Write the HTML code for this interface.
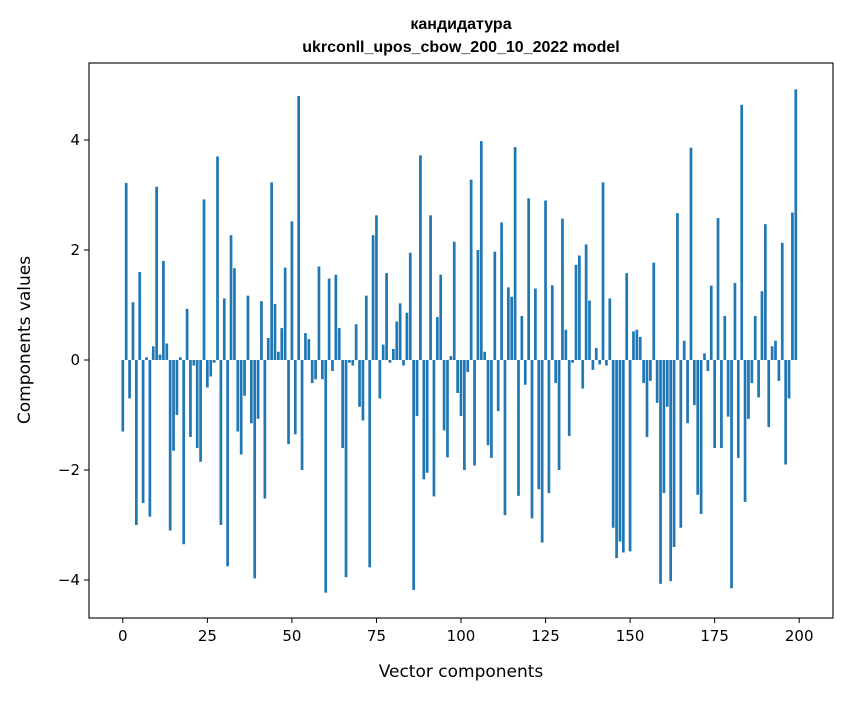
<!DOCTYPE html>
<html><head><meta charset="utf-8"><style>
body{margin:0;background:#fff;}
svg text{font-family:"DejaVu Sans","Liberation Sans",sans-serif;fill:#000;}
</style></head><body>
<svg id="chart" width="847" height="696" xmlns="http://www.w3.org/2000/svg">
<rect width="847" height="696" fill="#fff"/>
<text x="461" y="29" text-anchor="middle" font-size="16" font-weight="bold" style="font-family:'Liberation Sans',sans-serif">кандидатура</text>
<text x="461" y="52" text-anchor="middle" font-size="16" font-weight="bold" style="font-family:'Liberation Sans',sans-serif">ukrconll_upos_cbow_200_10_2022 model</text>
<g id="bars"></g>
<g id="axes"></g>
<text x="461" y="677" text-anchor="middle" font-size="17">Vector components</text>
<text x="0" y="0" transform="translate(30,340) rotate(-90)" text-anchor="middle" font-size="17">Components values</text>
</svg>
<script>
const values = [-1.3,3.22,-0.7,1.05,-3.0,1.6,-2.6,0.05,-2.85,0.25,3.15,0.1,1.8,0.3,-3.1,-1.65,-1.0,0.05,-3.35,0.93,
-1.4,-0.1,-1.6,-1.85,2.92,-0.5,-0.3,-0.05,3.7,-3.0,1.12,-3.75,2.27,1.67,-1.3,-1.72,-0.65,1.17,-1.15,-3.97,
-1.07,1.07,-2.52,0.4,3.23,1.02,0.15,0.58,1.68,-1.53,2.52,-1.35,4.8,-2.0,0.49,0.38,-0.42,-0.35,1.7,-0.35,
-4.23,1.48,-0.2,1.55,0.58,-1.6,-3.95,-0.05,-0.1,0.65,-0.85,-1.1,1.17,-3.77,2.27,2.63,-0.7,0.28,1.58,-0.05,
0.2,0.7,1.03,-0.1,0.86,1.95,-4.18,-1.02,3.72,-2.17,-2.05,2.63,-2.48,0.78,1.55,-1.28,-1.77,0.07,2.15,-0.6,
-1.02,-2.0,-0.22,3.28,-1.92,2.0,3.98,0.15,-1.55,-1.78,1.97,-0.93,2.5,-2.82,1.32,1.15,3.87,-2.47,0.8,-0.45,
2.94,-2.88,1.3,-2.35,-3.32,2.9,-2.42,1.36,-0.42,-2.0,2.57,0.55,-1.38,-0.05,1.73,1.9,-0.52,2.1,1.08,-0.18,
0.22,-0.08,3.23,-0.1,1.12,-3.05,-3.6,-3.3,-3.5,1.58,-3.48,0.52,0.55,0.42,-0.42,-1.4,-0.38,1.77,-0.78,-4.07,
-2.42,-0.85,-4.02,-3.4,2.67,-3.05,0.35,-1.15,3.86,-0.82,-2.45,-2.8,0.12,-0.2,1.35,-1.6,2.58,-1.6,0.8,-1.03,
-4.15,1.4,-1.78,4.64,-2.58,-1.07,-0.42,0.8,-0.68,1.25,2.47,-1.22,0.25,0.35,-0.38,2.13,-1.9,-0.7,2.68,4.92];
const xTicks = [0,25,50,75,100,125,150,175,200];
const yTicks = [-4,-2,0,2,4];
const L=89,R=833,T=63,B=618;
const xMin=-10,xMax=210;
function xs(v){return L+(v-xMin)/(xMax-xMin)*(R-L);}
function ys(v){return 360-v*55;}
const NS='http://www.w3.org/2000/svg';
const bars=document.getElementById('bars');
const bw=xs(0.8)-xs(0);
values.forEach((v,i)=>{
  const r=document.createElementNS(NS,'rect');
  
  
  r.setAttribute('x',xs(i)-bw/2);
  r.setAttribute('y',Math.min(ys(v),ys(0)));
  r.setAttribute('width',bw);
  r.setAttribute('height',Math.abs(ys(v)-ys(0)));
  r.setAttribute('fill','#1f77b4');
  bars.appendChild(r);
});
const ax=document.getElementById('axes');
const frame=document.createElementNS(NS,'rect');


frame.setAttribute('x',L);frame.setAttribute('y',T);
frame.setAttribute('width',R-L);frame.setAttribute('height',B-T);
frame.setAttribute('fill','none');frame.setAttribute('stroke','#000');frame.setAttribute('stroke-width','1.1');
ax.appendChild(frame);
xTicks.forEach(t=>{
  const x=xs(t);
  const l=document.createElementNS(NS,'line');
  
  
  l.setAttribute('x1',x);l.setAttribute('x2',x);l.setAttribute('y1',B);l.setAttribute('y2',B+5);
  l.setAttribute('stroke','#000');
  ax.appendChild(l);
  const tx=document.createElementNS(NS,'text');
  
  
  tx.setAttribute('x',x);tx.setAttribute('y',B+23);
  tx.setAttribute('text-anchor','middle');tx.setAttribute('font-size','15');
  tx.textContent=t;
  ax.appendChild(tx);
});
yTicks.forEach(t=>{
  const y=ys(t);
  const l=document.createElementNS(NS,'line');
  
  
  l.setAttribute('x1',L-5);l.setAttribute('x2',L);l.setAttribute('y1',y);l.setAttribute('y2',y);
  l.setAttribute('stroke','#000');
  ax.appendChild(l);
  const tx=document.createElementNS(NS,'text');
  
  
  tx.setAttribute('x',L-9);tx.setAttribute('y',y+5);
  tx.setAttribute('text-anchor','end');tx.setAttribute('font-size','15');
  tx.textContent=t<0?'\u2212'+Math.abs(t):t;
  ax.appendChild(tx);
});
</script>
</body></html>
